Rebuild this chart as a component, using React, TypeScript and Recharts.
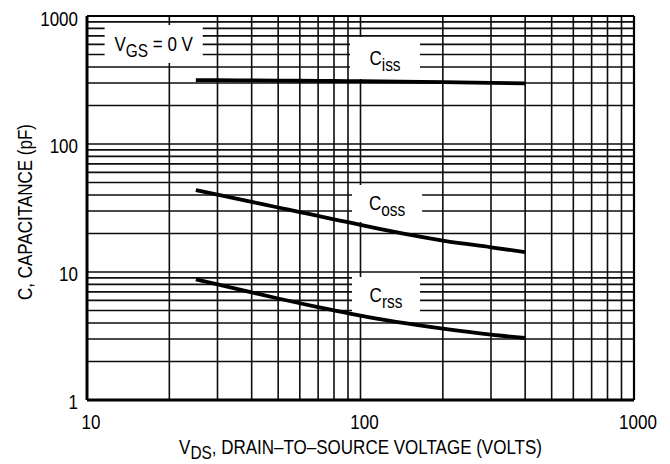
import React from 'react';
import { LineChart, Line, XAxis, YAxis, ReferenceArea, ReferenceLine } from 'recharts';

// ---- data ----
const vds = [25, 30, 40, 50, 60, 70, 80, 90, 100, 200, 300, 400];
const ciss = [316, 315, 314, 313, 312, 311, 310.5, 310, 309.5, 304, 300.5, 298];
const coss = [43.7, 40.2, 35.3, 31.9, 29.4, 27.4, 25.8, 24.5, 23.3, 17.6, 15.6, 14.3];
const crss = [8.77, 8.0, 6.93, 6.21, 5.7, 5.32, 5.02, 4.77, 4.56, 3.61, 3.24, 3.05];

const xTicks = [10, 100, 1000];
const yTicks = [1, 10, 100, 1000];
const xGrid = [20, 30, 40, 50, 60, 70, 80, 90, 100, 200, 300, 400, 500, 600, 700, 800, 900];
const yGrid = [2, 3, 4, 5, 6, 7, 8, 9, 10, 20, 30, 40, 50, 60, 70, 80, 90, 100, 200, 300, 400, 500, 600, 700, 800, 900];

const data = vds.map((v, i) => ({ vds: v, ciss: ciss[i], coss: coss[i], crss: crss[i] }));

// ---- annotation boxes (data coordinates) ----
const boxVgs = { x1: 11.6, x2: 26.5, y1: 429, y2: 851 };
const boxCiss = { x1: 91.5, x2: 165, y1: 322, y2: 685 };
const boxCoss = { x1: 93.1, x2: 168, y1: 24.6, y2: 47.8 };
const boxCrss = { x1: 93.1, x2: 165, y1: 4.7, y2: 9.14 };

const FONT = '"Liberation Sans", Arial, sans-serif';
const FS = 21;
const SUB = 19;
const SX = 0.81;
const GRID = '#0d0d0d';

const NText = ({ x, y, anchor = 'middle', rotate = 0, children }: any) => (
  <text
    x={0}
    y={0}
    transform={`translate(${x} ${y})${rotate ? ` rotate(${rotate})` : ''} scale(${SX} 1)`}
    textAnchor={anchor}
    fontFamily={FONT}
    fontSize={FS}
    fill="#000"
  >
    {children}
  </text>
);

const BoxLabel = (props: any) => {
  const vb = props.viewBox || {};
  const { x = 0, y = 0, width = 0, height = 0 } = vb;
  return (
    <NText x={x + width / 2} y={y + height / 2 + 6.5}>
      <tspan>{props.main}</tspan>
      <tspan dy={6} fontSize={SUB}>{props.sub}</tspan>
      {props.rest ? <tspan dy={-6}>{props.rest}</tspan> : null}
    </NText>
  );
};

const XTick = (props: any) => {
  const { x, payload } = props;
  return <NText x={x + 4} y={421}>{payload.value}</NText>;
};

const YTick = (props: any) => {
  const { y, payload } = props;
  return <NText x={70} y={y + 9} anchor="end">{payload.value}</NText>;
};

const XTitle = (props: any) => {
  const vb = props.viewBox || { x: 79, width: 547 };
  return (
    <NText x={vb.x + vb.width / 2} y={446}>
      <tspan>V</tspan>
      <tspan dy={5} fontSize={SUB}>DS</tspan>
      <tspan dy={-5}>, DRAIN–TO–SOURCE VOLTAGE (VOLTS)</tspan>
    </NText>
  );
};

const YTitle = () => (
  <NText x={24} y={204} rotate={-90}>C, CAPACITANCE (pF)</NText>
);

export default function App() {
  return (
    <div style={{ width: 654, height: 456, background: '#fff' }}>
      <LineChart width={654} height={456} data={data} margin={{ top: 8, right: 28, left: 0, bottom: 0 }}>
        <XAxis
          dataKey="vds"
          type="number"
          scale="log"
          domain={[10, 1000]}
          ticks={xTicks}
          allowDataOverflow
          tickLine={false}
          axisLine={{ stroke: '#000', strokeWidth: 3 }}
          tick={<XTick />}
          height={64}
          label={(p: any) => <XTitle {...p} />}
        />
        <YAxis
          type="number"
          scale="log"
          domain={[1, 1000]}
          ticks={yTicks}
          allowDataOverflow
          tickLine={false}
          axisLine={{ stroke: '#000', strokeWidth: 3 }}
          tick={<YTick />}
          width={79}
          label={() => <YTitle />}
        />
        {yGrid.map((v) => (
          <ReferenceLine key={`h${v}`} y={v} stroke={GRID} strokeWidth={1.6} zIndex={-100} />
        ))}
        {xGrid.map((v) => (
          <ReferenceLine key={`v${v}`} x={v} stroke={GRID} strokeWidth={1.6} zIndex={-100} />
        ))}
        <ReferenceLine y={1000} stroke="#000" strokeWidth={2.2} zIndex={-100} />
        <ReferenceLine x={1000} stroke="#000" strokeWidth={2.2} zIndex={-100} />
        <ReferenceArea {...boxVgs} fill="#fff" fillOpacity={1} stroke="none" zIndex={-50} label={(p: any) => <BoxLabel {...p} main="V" sub="GS" rest=" = 0 V" />} />
        <ReferenceArea {...boxCiss} fill="#fff" fillOpacity={1} stroke="none" zIndex={-50} label={(p: any) => <BoxLabel {...p} main="C" sub="iss" />} />
        <ReferenceArea {...boxCoss} fill="#fff" fillOpacity={1} stroke="none" zIndex={-50} label={(p: any) => <BoxLabel {...p} main="C" sub="oss" />} />
        <ReferenceArea {...boxCrss} fill="#fff" fillOpacity={1} stroke="none" zIndex={-50} label={(p: any) => <BoxLabel {...p} main="C" sub="rss" />} />
        <Line type="monotone" dataKey="ciss" stroke="#000" strokeWidth={3.8} dot={false} isAnimationActive={false} />
        <Line type="monotone" dataKey="coss" stroke="#000" strokeWidth={3.8} dot={false} isAnimationActive={false} />
        <Line type="monotone" dataKey="crss" stroke="#000" strokeWidth={3.8} dot={false} isAnimationActive={false} />
      </LineChart>
    </div>
  );
}
